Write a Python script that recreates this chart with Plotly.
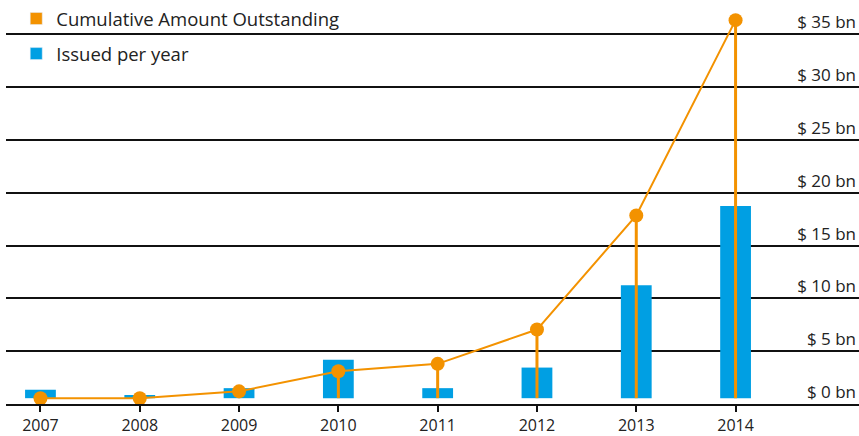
import plotly.graph_objects as go

years = [2007, 2008, 2009, 2010, 2011, 2012, 2013, 2014]
issued = [0.8, 0.3, 0.95, 3.65, 0.95, 2.9, 10.7, 18.2]
cumulative = [0.0, 0.0, 0.65, 2.55, 3.25, 6.5, 17.3, 35.8]
grid_values = [0, 5, 10, 15, 20, 25, 30, 35]
grid_labels = ["$ 0 bn", "$ 5 bn", "$ 10 bn", "$ 15 bn", "$ 20 bn", "$ 25 bn", "$ 30 bn", "$ 35 bn"]

ORANGE = "#F39200"
BLUE = "#009FE3"
TEXT = "#222222"
FONT = "Open Sans"
OFFSET = 0.55  # gridlines sit slightly below the data baseline in the original

fig = go.Figure()

fig.add_trace(go.Bar(
    x=years, y=issued, width=0.31, marker=dict(color=BLUE, line=dict(width=0)),
    showlegend=False, hoverinfo="skip"))

fig.add_trace(go.Scatter(
    x=years, y=cumulative, mode="lines+markers",
    line=dict(color=ORANGE, width=2), marker=dict(color=ORANGE, size=14),
    error_y=dict(type="data", symmetric=False, array=[0] * len(cumulative),
                 arrayminus=cumulative, color=ORANGE, thickness=3, width=0),
    showlegend=False, cliponaxis=False))

# legend entries (square swatches)
fig.add_trace(go.Bar(x=[None], y=[None], name="Cumulative Amount Outstanding",
                     marker_color=ORANGE, legendgroup="a"))
fig.add_trace(go.Bar(x=[None], y=[None], name="Issued per year",
                     marker_color=BLUE, legendgroup="b"))

fig.update_layout(
    width=859, height=436,
    margin=dict(l=6, r=0, t=0, b=32),
    paper_bgcolor="white", plot_bgcolor="white",
    font=dict(family=FONT, size=18, color=TEXT),
    showlegend=True,
    legend=dict(x=0.012, y=1.0, xanchor="left", yanchor="top",
                font=dict(size=18.5, color=TEXT), bgcolor="rgba(0,0,0,0)",
                tracegroupgap=8, traceorder="grouped"),
    barmode="overlay",
    xaxis=dict(range=[2006.653, 2015.243], tickmode="array", tickvals=years,
               ticktext=[str(y) for y in years], showgrid=False, zeroline=False,
               showline=True, linecolor="#111111", linewidth=2,
               ticks="outside", ticklen=6, tickwidth=2, tickcolor="#111111",
               tickfont=dict(size=16, color=TEXT), automargin=False),
    yaxis=dict(range=[-OFFSET, -OFFSET + 404 / 10.56], side="right",
               tickmode="array", tickvals=[v - OFFSET for v in grid_values],
               ticktext=grid_labels, ticklabelposition="inside top",
               showgrid=True, gridcolor="#111111", gridwidth=2,
               zeroline=False, showline=False, ticks="",
               tickfont=dict(size=17, color=TEXT), automargin=False),
)

fig.write_html("out.html", config={"displayModeBar": False},
               post_script="document.body.style.margin='0px';")
